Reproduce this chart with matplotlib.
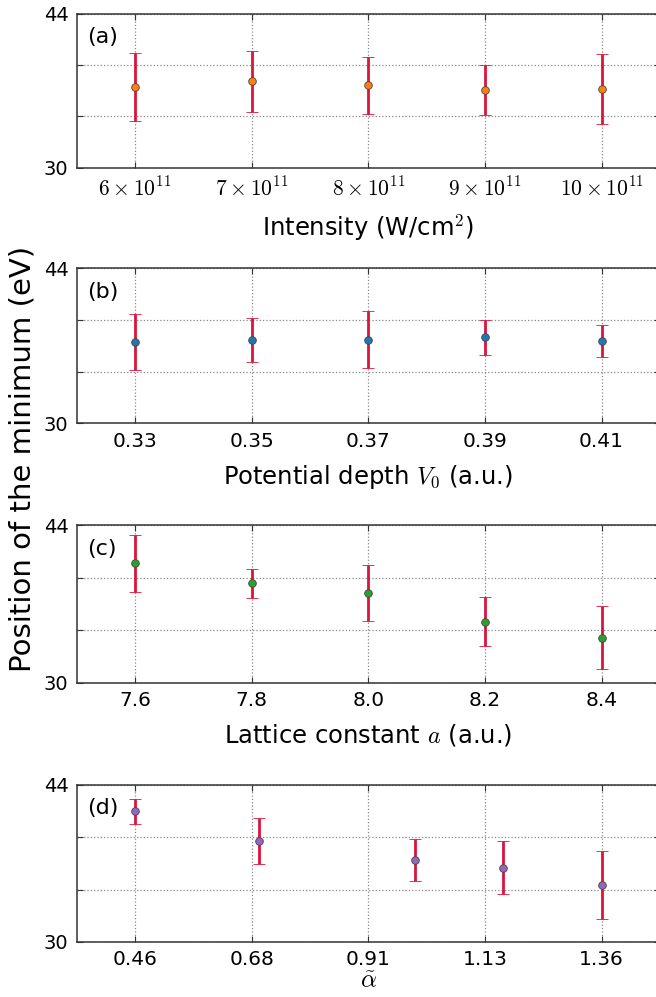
import numpy as np
import matplotlib
matplotlib.use("Agg")
import matplotlib.pyplot as plt

plt.rcParams['mathtext.fontset'] = 'cm'
plt.rcParams['font.family'] = ['DejaVu Sans']

# ---- data ----
int_x = [6, 7, 8, 9, 10]            # intensity in units of 1e11 W/cm^2
int_y = [37.32, 37.87, 37.50, 37.11, 37.17]
int_err = [3.1, 2.8, 2.6, 2.27, 3.2]
int_ticklabels = [r'$6\times10^{11}$', r'$7\times10^{11}$', r'$8\times10^{11}$',
                  r'$9\times10^{11}$', r'$10\times10^{11}$']

v0_x = [0.33, 0.35, 0.37, 0.39, 0.41]
v0_y = [37.35, 37.50, 37.56, 37.77, 37.44]
v0_err = [2.53, 2.0, 2.6, 1.6, 1.42]
v0_ticklabels = ['0.33', '0.35', '0.37', '0.39', '0.41']

lat_x = [7.6, 7.8, 8.0, 8.2, 8.4]
lat_y = [40.60, 38.82, 37.99, 35.42, 33.97]
lat_err = [2.51, 1.28, 2.5, 2.19, 2.8]
lat_ticklabels = ['7.6', '7.8', '8.0', '8.2', '8.4']

alpha_x = [0.46, 0.70, 1.00, 1.17, 1.36]
alpha_y = [41.65, 39.03, 37.31, 36.63, 35.08]
alpha_err = [1.1, 2.05, 1.9, 2.33, 3.03]
alpha_tickpos = [0.46, 0.685, 0.91, 1.135, 1.36]
alpha_ticklabels = ['0.46', '0.68', '0.91', '1.13', '1.36']

y_ticks = [30, 30 + 14/3, 30 + 28/3, 44]
y_ticklabels = ['30', '', '', '44']

pos_left, pos_w = 0.1169, 0.889
panels = [
    dict(x=int_x, y=int_y, e=int_err, ticks=int_x, tl=int_ticklabels,
         color='#ff7f0e', label='(a)', xlabel=r'Intensity (W/cm$^2$)',
         xlim=(5.5, 10.5), pos=[pos_left, 0.8318, pos_w, 0.1542]),
    dict(x=v0_x, y=v0_y, e=v0_err, ticks=v0_x, tl=v0_ticklabels,
         color='#1f77b4', label='(b)', xlabel=r'Potential depth $V_0$ (a.u.)',
         xlim=(0.32, 0.42), pos=[pos_left, 0.5754, pos_w, 0.1555]),
    dict(x=lat_x, y=lat_y, e=lat_err, ticks=lat_x, tl=lat_ticklabels,
         color='#2ca02c', label='(c)', xlabel=r'Lattice constant $a$ (a.u.)',
         xlim=(7.5, 8.5), pos=[pos_left, 0.3153, pos_w, 0.1581]),
    dict(x=alpha_x, y=alpha_y, e=alpha_err, ticks=alpha_tickpos, tl=alpha_ticklabels,
         color='#9467bd', label='(d)', xlabel=r'$\tilde{\alpha}$',
         xlim=(0.3475, 1.4725), pos=[pos_left, 0.0552, pos_w, 0.1575]),
]

fig = plt.figure(figsize=(6.56, 9.97), dpi=100)

for p in panels:
    ax = fig.add_axes(p['pos'])
    ax.errorbar(p['x'], p['y'], yerr=p['e'], fmt='o', color=p['color'],
                ecolor='#dc143c', elinewidth=2.0, capsize=4.5, capthick=2.0,
                markersize=5.5, markeredgecolor='#444444', markeredgewidth=0.6,
                zorder=3)
    ax.set_xlim(*p['xlim'])
    ax.set_ylim(30, 44)
    ax.set_xticks(p['ticks'])
    ax.set_xticklabels(p['tl'], fontsize=15.5 if p['label'] == '(a)' else 14.5)
    ax.set_yticks(y_ticks)
    ax.set_yticklabels(y_ticklabels, fontsize=14)
    ax.tick_params(direction='in', length=4, width=0.8, color='#333333', pad=6,
                   top=True, right=True)
    ax.grid(True, linestyle=':', color='#888888', linewidth=0.9)
    for s in ax.spines.values():
        s.set_color('#333333')
        s.set_linewidth(1.1)
    ax.text(0.018, 0.85, p['label'], transform=ax.transAxes, fontsize=16,
            va='center', ha='left')
    ax.set_xlabel(p['xlabel'], fontsize=17.5, labelpad=9)
    if p['label'] == '(d)':
        ax.xaxis.label.set_size(18)
        ax.xaxis.labelpad = 0

fig.text(0.034, 0.54, 'Position of the minimum (eV)', rotation=90,
         fontsize=21, va='center', ha='center')

fig.savefig('out.png', dpi=100)
